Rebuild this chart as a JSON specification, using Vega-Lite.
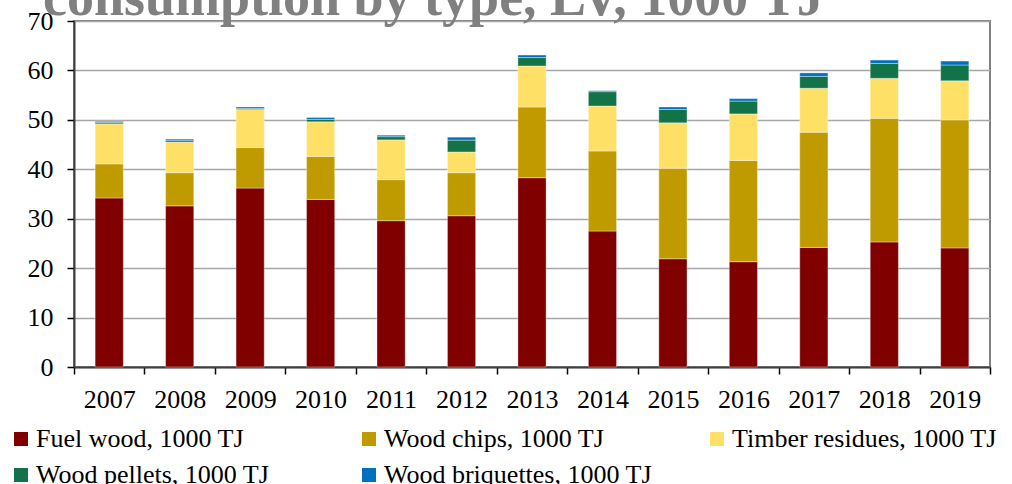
{
  "$schema": "https://vega.github.io/schema/vega-lite/v6.json",
  "autosize": "none",
  "width": 916,
  "height": 346,
  "padding": {"left": 74, "top": 21, "right": 22, "bottom": 117},
  "background": "white",
  "title": {
    "text": "consumption by type, LV, 1000 TJ",
    "anchor": "start",
    "frame": "group",
    "font": "Liberation Serif",
    "fontSize": 54,
    "fontWeight": "bold",
    "color": "#808080",
    "baseline": "alphabetic",
    "offset": -61,
    "dx": -31
  },
  "data": {
    "values": [
      {"year": "2007", "type": "Fuel wood, 1000 TJ", "value": 34.2},
      {"year": "2007", "type": "Wood chips, 1000 TJ", "value": 6.9},
      {"year": "2007", "type": "Timber residues, 1000 TJ", "value": 8.1},
      {"year": "2007", "type": "Wood pellets, 1000 TJ", "value": 0.3},
      {"year": "2007", "type": "Wood briquettes, 1000 TJ", "value": 0.2},
      {"year": "2008", "type": "Fuel wood, 1000 TJ", "value": 32.6},
      {"year": "2008", "type": "Wood chips, 1000 TJ", "value": 6.7},
      {"year": "2008", "type": "Timber residues, 1000 TJ", "value": 6.2},
      {"year": "2008", "type": "Wood pellets, 1000 TJ", "value": 0.3},
      {"year": "2008", "type": "Wood briquettes, 1000 TJ", "value": 0.3},
      {"year": "2009", "type": "Fuel wood, 1000 TJ", "value": 36.2},
      {"year": "2009", "type": "Wood chips, 1000 TJ", "value": 8.2},
      {"year": "2009", "type": "Timber residues, 1000 TJ", "value": 7.7},
      {"year": "2009", "type": "Wood pellets, 1000 TJ", "value": 0.2},
      {"year": "2009", "type": "Wood briquettes, 1000 TJ", "value": 0.3},
      {"year": "2010", "type": "Fuel wood, 1000 TJ", "value": 33.9},
      {"year": "2010", "type": "Wood chips, 1000 TJ", "value": 8.7},
      {"year": "2010", "type": "Timber residues, 1000 TJ", "value": 7.0},
      {"year": "2010", "type": "Wood pellets, 1000 TJ", "value": 0.5},
      {"year": "2010", "type": "Wood briquettes, 1000 TJ", "value": 0.4},
      {"year": "2011", "type": "Fuel wood, 1000 TJ", "value": 29.6},
      {"year": "2011", "type": "Wood chips, 1000 TJ", "value": 8.3},
      {"year": "2011", "type": "Timber residues, 1000 TJ", "value": 8.05},
      {"year": "2011", "type": "Wood pellets, 1000 TJ", "value": 0.65},
      {"year": "2011", "type": "Wood briquettes, 1000 TJ", "value": 0.3},
      {"year": "2012", "type": "Fuel wood, 1000 TJ", "value": 30.6},
      {"year": "2012", "type": "Wood chips, 1000 TJ", "value": 8.7},
      {"year": "2012", "type": "Timber residues, 1000 TJ", "value": 4.2},
      {"year": "2012", "type": "Wood pellets, 1000 TJ", "value": 2.4},
      {"year": "2012", "type": "Wood briquettes, 1000 TJ", "value": 0.6},
      {"year": "2013", "type": "Fuel wood, 1000 TJ", "value": 38.3},
      {"year": "2013", "type": "Wood chips, 1000 TJ", "value": 14.3},
      {"year": "2013", "type": "Timber residues, 1000 TJ", "value": 8.3},
      {"year": "2013", "type": "Wood pellets, 1000 TJ", "value": 1.7},
      {"year": "2013", "type": "Wood briquettes, 1000 TJ", "value": 0.5},
      {"year": "2014", "type": "Fuel wood, 1000 TJ", "value": 27.5},
      {"year": "2014", "type": "Wood chips, 1000 TJ", "value": 16.2},
      {"year": "2014", "type": "Timber residues, 1000 TJ", "value": 9.1},
      {"year": "2014", "type": "Wood pellets, 1000 TJ", "value": 2.9},
      {"year": "2014", "type": "Wood briquettes, 1000 TJ", "value": 0.2},
      {"year": "2015", "type": "Fuel wood, 1000 TJ", "value": 21.9},
      {"year": "2015", "type": "Wood chips, 1000 TJ", "value": 18.3},
      {"year": "2015", "type": "Timber residues, 1000 TJ", "value": 9.2},
      {"year": "2015", "type": "Wood pellets, 1000 TJ", "value": 2.7},
      {"year": "2015", "type": "Wood briquettes, 1000 TJ", "value": 0.5},
      {"year": "2016", "type": "Fuel wood, 1000 TJ", "value": 21.3},
      {"year": "2016", "type": "Wood chips, 1000 TJ", "value": 20.5},
      {"year": "2016", "type": "Timber residues, 1000 TJ", "value": 9.4},
      {"year": "2016", "type": "Wood pellets, 1000 TJ", "value": 2.6},
      {"year": "2016", "type": "Wood briquettes, 1000 TJ", "value": 0.5},
      {"year": "2017", "type": "Fuel wood, 1000 TJ", "value": 24.2},
      {"year": "2017", "type": "Wood chips, 1000 TJ", "value": 23.3},
      {"year": "2017", "type": "Timber residues, 1000 TJ", "value": 8.9},
      {"year": "2017", "type": "Wood pellets, 1000 TJ", "value": 2.4},
      {"year": "2017", "type": "Wood briquettes, 1000 TJ", "value": 0.7},
      {"year": "2018", "type": "Fuel wood, 1000 TJ", "value": 25.3},
      {"year": "2018", "type": "Wood chips, 1000 TJ", "value": 25.0},
      {"year": "2018", "type": "Timber residues, 1000 TJ", "value": 8.1},
      {"year": "2018", "type": "Wood pellets, 1000 TJ", "value": 3.0},
      {"year": "2018", "type": "Wood briquettes, 1000 TJ", "value": 0.7},
      {"year": "2019", "type": "Fuel wood, 1000 TJ", "value": 24.1},
      {"year": "2019", "type": "Wood chips, 1000 TJ", "value": 25.9},
      {"year": "2019", "type": "Timber residues, 1000 TJ", "value": 7.9},
      {"year": "2019", "type": "Wood pellets, 1000 TJ", "value": 3.2},
      {"year": "2019", "type": "Wood briquettes, 1000 TJ", "value": 0.8}
    ]
  },
  "transform": [
    {"calculate": "indexof(['Fuel wood, 1000 TJ', 'Wood chips, 1000 TJ', 'Timber residues, 1000 TJ', 'Wood pellets, 1000 TJ', 'Wood briquettes, 1000 TJ'], datum.type)", "as": "stackOrder"}
  ],
  "mark": {"type": "bar", "width": {"band": 0.4}, "stroke": "#ffffff", "strokeWidth": 0.6, "strokeOpacity": 0.6},
  "encoding": {
    "x": {
      "field": "year",
      "type": "nominal",
      "scale": {"paddingInner": 0, "paddingOuter": 0},
      "axis": {
        "title": null,
        "labelAngle": 0,
        "tickBand": "extent",
        "labelFont": "Liberation Serif",
        "labelFontSize": 26,
        "labelColor": "#000000",
        "labelPadding": 12,
        "ticks": true,
        "tickSize": 7,
        "tickColor": "#000000",
        "tickWidth": 1.5,
        "domainColor": "#404040",
        "domainWidth": 2,
        "grid": false
      }
    },
    "y": {
      "field": "value",
      "type": "quantitative",
      "stack": "zero",
      "scale": {"domain": [0, 70], "nice": false},
      "axis": {
        "title": null,
        "values": [0, 10, 20, 30, 40, 50, 60, 70],
        "labelFont": "Liberation Serif",
        "labelFontSize": 26,
        "labelColor": "#000000",
        "labelPadding": 14,
        "ticks": true,
        "tickSize": 7,
        "tickColor": "#000000",
        "tickWidth": 1.5,
        "domainColor": "#404040",
        "domainWidth": 2,
        "grid": true,
        "gridColor": "#a6a6a6",
        "gridWidth": 1.5
      }
    },
    "color": {
      "field": "type",
      "type": "nominal",
      "sort": ["Fuel wood, 1000 TJ", "Wood chips, 1000 TJ", "Timber residues, 1000 TJ", "Wood pellets, 1000 TJ", "Wood briquettes, 1000 TJ"],
      "scale": {
        "domain": ["Fuel wood, 1000 TJ", "Wood chips, 1000 TJ", "Timber residues, 1000 TJ", "Wood pellets, 1000 TJ", "Wood briquettes, 1000 TJ"],
        "range": ["#800000", "#C09B00", "#FFE066", "#117347", "#0070C0"]
      },
      "legend": {
        "title": null,
        "orient": "none",
        "legendX": -66,
        "legendY": 405,
        "direction": "horizontal",
        "columns": 3,
        "gridAlign": "all",
        "columnPadding": 52,
        "rowPadding": 10,
        "padding": 0,
        "symbolType": "square",
        "symbolSize": 196,
        "symbolStrokeWidth": 0,
        "symbolOpacity": 1,
        "labelOffset": 2,
        "labelFont": "Liberation Serif",
        "labelFontSize": 26,
        "labelColor": "#000000",
        "labelLimit": 400
      }
    },
    "order": {"field": "stackOrder", "type": "quantitative", "sort": "ascending"}
  },
  "config": {
    "view": {"stroke": "#808080", "strokeWidth": 2}
  }
}
